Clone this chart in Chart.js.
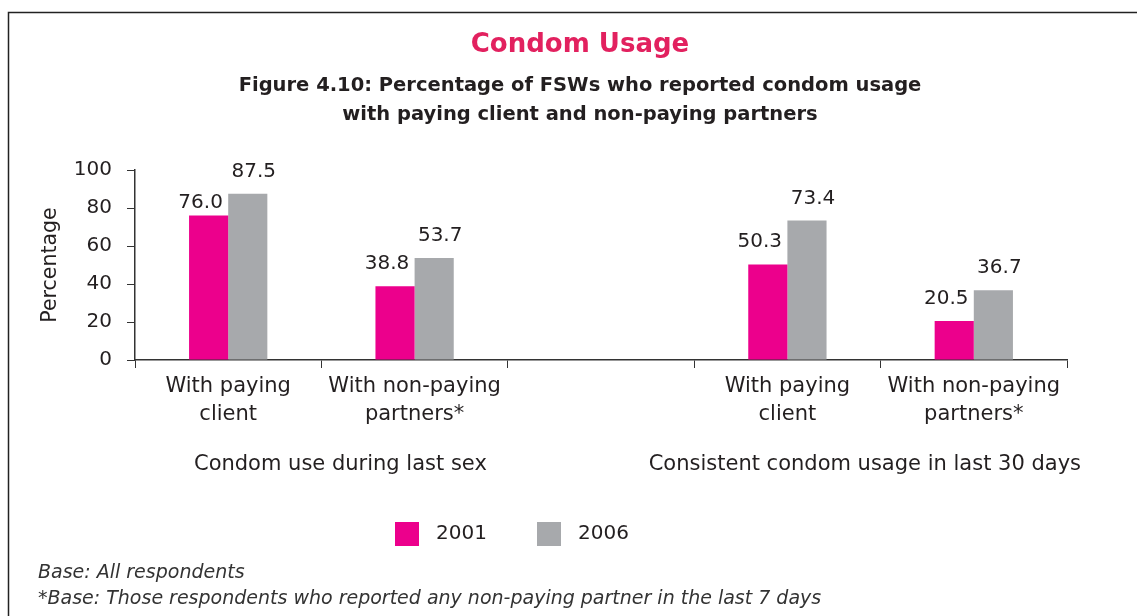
<!DOCTYPE html>
<html lang="en">
<head>
    <meta charset="UTF-8">
    <title>Condom Usage</title>
    <script src="https://cdn.jsdelivr.net/npm/chart.js"></script>
    <style>
        body { margin: 0; background: #fff; }
        #wrap { width: 1137px; height: 616px; }
    </style>
</head>
<body>
    <div id="wrap"><canvas id="condomChart" width="1137" height="616"></canvas></div>

    <script>
        // chart data
        const categories = [
            ['With paying', 'client'],
            ['With non-paying', 'partners*'],
            '',
            ['With paying', 'client'],
            ['With non-paying', 'partners*']
        ];
        const groupLabels = ['Condom use during last sex', 'Consistent condom usage in last 30 days'];
        const groupSpans = [[0, 1], [3, 4]];
        const years = ['2001', '2006'];
        const values2001 = [76.0, 38.8, null, 50.3, 20.5];
        const values2006 = [87.5, 53.7, null, 73.4, 36.7];

        const textColor = '#231f20';
        const font = 'DejaVu Sans';
        const groupNudge = [19, 0];

        // titles, group labels, legend, value labels and footnotes
        const extras = {
            id: 'extras',
            beforeDraw(chart) {
                const c = chart.ctx;
                c.save();
                c.strokeStyle = '#222';
                c.lineWidth = 1.5;
                c.beginPath();
                c.moveTo(1137, 12.5);
                c.lineTo(8.5, 12.5);
                c.lineTo(8.5, 616);
                c.stroke();
                c.restore();
            },
            afterDraw(chart) {
                const c = chart.ctx;
                const xs = chart.scales.x;
                const area = chart.chartArea;
                c.save();
                c.textAlign = 'center';
                c.textBaseline = 'middle';

                c.fillStyle = '#e2215f';
                c.font = 'bold 26px "' + font + '"';
                c.fillText('Condom Usage', 580, 45);

                c.fillStyle = textColor;
                c.font = 'bold 19.5px "' + font + '"';
                c.fillText('Figure 4.10: Percentage of FSWs who reported condom usage', 580, 86);
                c.fillText('with paying client and non-paying partners', 580, 115);

                // value labels over the bars
                c.font = '20px "' + font + '"';
                c.textBaseline = 'alphabetic';
                chart.data.datasets.forEach((ds, i) => {
                    const meta = chart.getDatasetMeta(i);
                    const shift = i === 0 ? -8 : 6;
                    meta.data.forEach((bar, j) => {
                        if (ds.data[j] == null) return;
                        // keep the 2001 label clear of its neighbour, as in the original
                        const lift = (i === 0 && bar.y - area.top < 60) ? 8 : 17;
                        c.fillText(ds.data[j].toFixed(1), bar.x + shift, bar.y - lift);
                    });
                });

                // group labels under the categories
                c.font = '21px "' + font + '"';
                c.textBaseline = 'middle';
                groupLabels.forEach((txt, g) => {
                    const [a, b] = groupSpans[g];
                    let cx = (xs.getPixelForValue(a) + xs.getPixelForValue(b)) / 2 + groupNudge[g];
                    const half = c.measureText(txt).width / 2;
                    if (cx + half > area.right + 14) cx = area.right + 14 - half;
                    c.fillText(txt, cx, 465);
                });

                // legend
                c.font = '20px "' + font + '"';
                c.textAlign = 'left';
                chart.data.datasets.forEach((ds, i) => {
                    const x0 = 395 + i * 142;
                    c.fillStyle = ds.backgroundColor;
                    c.fillRect(x0, 522, 24, 24);
                    c.fillStyle = textColor;
                    c.fillText(ds.label, x0 + 41, 534);
                });

                // footnotes
                c.font = 'oblique 19px "' + font + '"';
                c.fillStyle = '#333';
                c.fillText('Base: All respondents', 38, 573);
                c.fillText('*Base: Those respondents who reported any non-paying partner in the last 7 days', 38, 599);
                c.restore();
            }
        };

        const ctx = document.getElementById('condomChart').getContext('2d');
        const myChart = new Chart(ctx, {
            type: 'bar',
            data: {
                labels: categories,
                datasets: [
                    {
                        label: years[0],
                        data: values2001,
                        backgroundColor: '#ec008c'
                    },
                    {
                        label: years[1],
                        data: values2006,
                        backgroundColor: '#a7a9ac'
                    }
                ]
            },
            options: {
                responsive: false,
                animation: false,
                categoryPercentage: 0.42,
                barPercentage: 1.0,
                layout: {
                    padding: { top: 170, right: 70, left: 0, bottom: 0 }
                },
                plugins: {
                    legend: { display: false },
                    title: { display: false },
                    tooltip: { enabled: false }
                },
                scales: {
                    x: {
                        grid: {
                            drawOnChartArea: false,
                            drawTicks: true,
                            tickLength: 8,
                            tickColor: '#333',
                            offset: true
                        },
                        border: { color: '#333', width: 1.5 },
                        ticks: {
                            color: textColor,
                            padding: 4,
                            maxRotation: 0,
                            autoSkip: false,
                            font: { family: font, size: 21, lineHeight: 1.35 }
                        },
                        afterFit(scale) { scale.height = 256; }
                    },
                    y: {
                        min: 0,
                        max: 100,
                        ticks: {
                            stepSize: 20,
                            color: textColor,
                            padding: 15,
                            font: { family: font, size: 20 }
                        },
                        grid: {
                            drawOnChartArea: false,
                            drawTicks: true,
                            tickLength: 8,
                            tickColor: '#333'
                        },
                        border: { color: '#333', width: 1.5 },
                        title: {
                            display: true,
                            text: 'Percentage',
                            color: textColor,
                            padding: { top: 38, bottom: 0 },
                            font: { family: font, size: 20.5 }
                        },
                        afterFit(scale) { scale.width = 135; }
                    }
                }
            },
            plugins: [extras]
        });
    </script>
</body>
</html>
